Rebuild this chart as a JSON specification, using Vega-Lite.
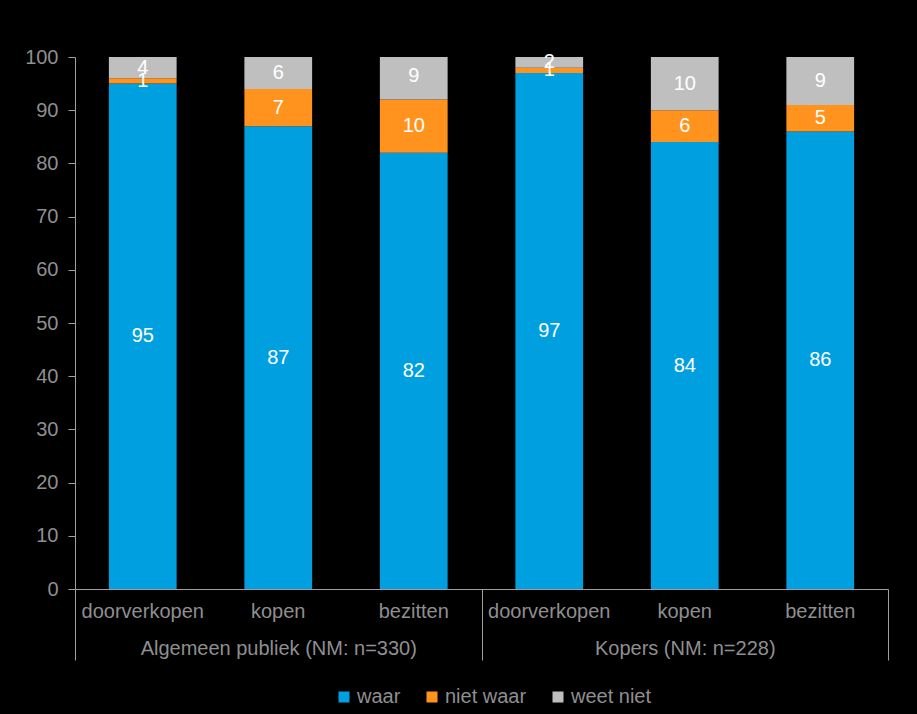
{
  "$schema": "https://vega.github.io/schema/vega-lite/v6.json",
  "width": 813,
  "height": 532,
  "autosize": {"type": "none"},
  "padding": {"left": 75, "top": 57, "right": 29, "bottom": 125},
  "background": "#000000",
  "config": {
    "view": {"stroke": null},
    "font": "Liberation Sans",
    "axis": {"grid": false, "labelFont": "Liberation Sans", "labelColor": "#8f8f8f", "labelFontSize": 20, "domainColor": "#a0a0a0", "tickColor": "#a0a0a0", "title": null, "labelLimit": 0}
  },
  "data": {
    "values": [
      {"group": "Algemeen publiek (NM: n=330)", "key": "A|doorverkopen", "answer": "waar", "order": 1, "value": 95},
      {"group": "Algemeen publiek (NM: n=330)", "key": "A|doorverkopen", "answer": "niet waar", "order": 2, "value": 1},
      {"group": "Algemeen publiek (NM: n=330)", "key": "A|doorverkopen", "answer": "weet niet", "order": 3, "value": 4},
      {"group": "Algemeen publiek (NM: n=330)", "key": "A|kopen", "answer": "waar", "order": 1, "value": 87},
      {"group": "Algemeen publiek (NM: n=330)", "key": "A|kopen", "answer": "niet waar", "order": 2, "value": 7},
      {"group": "Algemeen publiek (NM: n=330)", "key": "A|kopen", "answer": "weet niet", "order": 3, "value": 6},
      {"group": "Algemeen publiek (NM: n=330)", "key": "A|bezitten", "answer": "waar", "order": 1, "value": 82},
      {"group": "Algemeen publiek (NM: n=330)", "key": "A|bezitten", "answer": "niet waar", "order": 2, "value": 10},
      {"group": "Algemeen publiek (NM: n=330)", "key": "A|bezitten", "answer": "weet niet", "order": 3, "value": 9},
      {"group": "Kopers (NM: n=228)", "key": "K|doorverkopen", "answer": "waar", "order": 1, "value": 97},
      {"group": "Kopers (NM: n=228)", "key": "K|doorverkopen", "answer": "niet waar", "order": 2, "value": 1},
      {"group": "Kopers (NM: n=228)", "key": "K|doorverkopen", "answer": "weet niet", "order": 3, "value": 2},
      {"group": "Kopers (NM: n=228)", "key": "K|kopen", "answer": "waar", "order": 1, "value": 84},
      {"group": "Kopers (NM: n=228)", "key": "K|kopen", "answer": "niet waar", "order": 2, "value": 6},
      {"group": "Kopers (NM: n=228)", "key": "K|kopen", "answer": "weet niet", "order": 3, "value": 10},
      {"group": "Kopers (NM: n=228)", "key": "K|bezitten", "answer": "waar", "order": 1, "value": 86},
      {"group": "Kopers (NM: n=228)", "key": "K|bezitten", "answer": "niet waar", "order": 2, "value": 5},
      {"group": "Kopers (NM: n=228)", "key": "K|bezitten", "answer": "weet niet", "order": 3, "value": 9}
    ]
  },
  "layer": [
    {
      "encoding": {
        "x": {
          "field": "key", "type": "nominal", "sort": null,
          "scale": {"paddingInner": 0.5, "paddingOuter": 0.25},
          "axis": {"orient": "bottom", "labelExpr": "split(datum.value, '|')[1]", "ticks": false, "labelPadding": 12, "labelAngle": 0, "domainColor": "#a0a0a0"}
        },
        "y": {
          "field": "value", "type": "quantitative", "stack": "zero",
          "scale": {"domain": [0, 100], "nice": false},
          "axis": {"values": [0, 10, 20, 30, 40, 50, 60, 70, 80, 90, 100], "tickSize": 7, "labelPadding": 10}
        },
        "order": {"field": "order", "type": "quantitative"}
      },
      "layer": [
        {
          "mark": {"type": "bar", "clip": true},
          "encoding": {
            "color": {
              "field": "answer", "type": "nominal",
              "scale": {"domain": ["waar", "niet waar", "weet niet"], "range": ["#009fe0", "#ff931e", "#bfbfbf"]},
              "legend": {
                "orient": "none", "direction": "horizontal", "legendX": 259, "legendY": 630,
                "title": null, "symbolType": "square", "symbolSize": 121, "symbolStrokeWidth": 0,
                "labelColor": "#8f8f8f", "labelFontSize": 20, "labelFont": "Liberation Sans",
                "labelOffset": 3, "columnPadding": 21
              }
            }
          }
        },
        {
          "mark": {"type": "text", "color": "#ffffff", "fontSize": 20, "font": "Liberation Sans", "baseline": "middle"},
          "encoding": {
            "y": {"field": "value", "type": "quantitative", "stack": "zero", "bandPosition": 0.5},
            "text": {"field": "value", "type": "quantitative"}
          }
        }
      ]
    },
    {
      "mark": {"type": "rule", "opacity": 0},
      "encoding": {
        "x": {
          "field": "group", "type": "nominal", "sort": null,
          "scale": {"paddingInner": 0, "paddingOuter": 0},
          "axis": {"orient": "bottom", "domain": false, "ticks": true, "tickBand": "extent", "tickSize": 71, "labelPadding": -22, "labelAngle": 0, "offset": 0, "tickColor": "#a0a0a0"}
        }
      }
    }
  ],
  "resolve": {"scale": {"x": "independent"}, "axis": {"x": "independent"}}
}
